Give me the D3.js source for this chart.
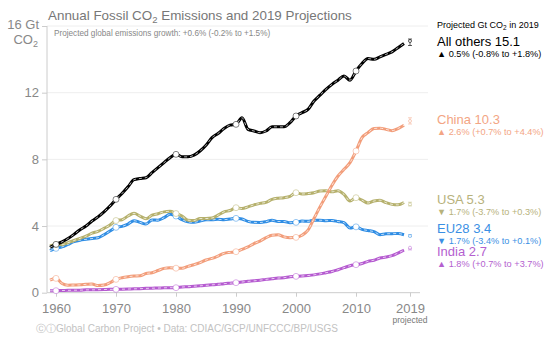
<!DOCTYPE html>
<html>
<head>
<meta charset="utf-8">
<script src="https://cdn.jsdelivr.net/npm/d3@7"></script>
<style>
body { margin: 0; background: #fff; }
text { font-family: "Liberation Sans", Arial, Helvetica, sans-serif; }
</style>
</head>
<body>
<div id="chart"></div>
<script>
(function() {

// years 1959..2018, projection for 2019
const firstYear = 1959;
const projYear = 2019;

const allOthers = [2.72, 2.90, 3.05, 3.25, 3.50, 3.78, 4.00, 4.30, 4.55, 4.85,
	5.20, 5.60, 5.95, 6.35, 6.78, 6.85, 6.90, 7.20, 7.50, 7.80,
	8.10, 8.30, 8.15, 8.15, 8.25, 8.50, 8.85, 9.30, 9.55, 9.85,
	10.05, 10.10, 10.50, 9.80, 9.70, 9.60, 9.70, 9.95, 9.95, 9.95,
	10.20, 10.60, 10.80, 11.00, 11.50, 11.85, 12.20, 12.50, 12.75, 13.00,
	12.75, 13.30, 13.75, 14.05, 14.00, 14.15, 14.30, 14.45, 14.70, 14.95];

const china = [0.76, 0.86, 0.55, 0.45, 0.46, 0.47, 0.50, 0.52, 0.43, 0.46,
	0.60, 0.80, 0.90, 0.96, 1.00, 1.02, 1.15, 1.20, 1.33, 1.46,
	1.50, 1.47, 1.46, 1.58, 1.68, 1.80, 1.96, 2.06, 2.20, 2.36,
	2.42, 2.46, 2.60, 2.75, 2.95, 3.10, 3.30, 3.45, 3.47, 3.35,
	3.30, 3.32, 3.45, 3.75, 4.45, 5.15, 5.80, 6.45, 7.00, 7.40,
	7.80, 8.50, 9.30, 9.60, 9.85, 9.87, 9.80, 9.72, 9.85, 10.05];

const usa = [2.80, 2.89, 2.88, 3.00, 3.13, 3.26, 3.39, 3.57, 3.68, 3.86,
	4.06, 4.33, 4.38, 4.60, 4.76, 4.60, 4.44, 4.65, 4.74, 4.85,
	4.88, 4.75, 4.60, 4.35, 4.33, 4.45, 4.45, 4.48, 4.65, 4.85,
	4.93, 5.10, 5.05, 5.15, 5.27, 5.36, 5.42, 5.60, 5.67, 5.70,
	5.78, 6.00, 5.92, 5.95, 6.00, 6.10, 6.12, 6.05, 6.12, 5.90,
	5.50, 5.70, 5.55, 5.38, 5.50, 5.55, 5.40, 5.30, 5.27, 5.41];

const eu28 = [2.52, 2.66, 2.75, 2.90, 3.06, 3.15, 3.20, 3.25, 3.30, 3.48,
	3.70, 3.92, 3.98, 4.12, 4.32, 4.22, 4.12, 4.36, 4.35, 4.50,
	4.70, 4.60, 4.38, 4.25, 4.22, 4.30, 4.37, 4.37, 4.40, 4.38,
	4.42, 4.46, 4.42, 4.28, 4.22, 4.21, 4.26, 4.35, 4.27, 4.27,
	4.20, 4.22, 4.30, 4.28, 4.35, 4.35, 4.32, 4.33, 4.27, 4.20,
	3.88, 3.95, 3.80, 3.73, 3.66, 3.48, 3.53, 3.54, 3.55, 3.48];

const india = [0.11, 0.12, 0.13, 0.14, 0.15, 0.15, 0.17, 0.17, 0.18, 0.19,
	0.20, 0.20, 0.21, 0.22, 0.23, 0.24, 0.26, 0.27, 0.28, 0.29,
	0.30, 0.30, 0.34, 0.36, 0.39, 0.41, 0.44, 0.47, 0.50, 0.54,
	0.57, 0.60, 0.64, 0.68, 0.71, 0.75, 0.80, 0.84, 0.88, 0.90,
	0.96, 0.98, 1.00, 1.03, 1.07, 1.13, 1.20, 1.27, 1.38, 1.50,
	1.62, 1.68, 1.75, 1.88, 1.95, 2.08, 2.14, 2.22, 2.38, 2.55];

// 2019 projections and growth ranges (%)
const names = ["All others", "China", "USA", "EU28", "India"];
const projected = [15.1, 10.3, 5.3, 3.4, 2.7];
const growth = [0.5, 2.6, -1.7, -1.7, 1.8];
const growthLo = [-0.8, 0.7, -3.7, -3.4, 0.7];
const growthHi = [1.8, 4.4, 0.3, 0.1, 3.7];

const yTicks = [0, 4, 8, 12, 16];
const xTicks = [1960, 1970, 1980, 1990, 2000, 2010, 2019];
const markerYears = [1960, 1970, 1980, 1990, 2000, 2010];

const series = [allOthers, china, usa, eu28, india];
const colors = ["#000000", "#f29d7a", "#b5b06c", "#2f8de4", "#b55ad0"];
const textColors = ["#000000", "#f3a584", "#b7b27c", "#3a8fe4", "#b45fcf"];
const labelY = [46, 124, 204, 232.5, 256];

const width = 551, height = 337;

const svg = d3.select("#chart").append("svg")
	.attr("width", width)
	.attr("height", height);

const x = d3.scaleLinear().domain([1960, 2010]).range([56, 356]);
const y = d3.scaleLinear().domain([0, 16]).range([292.7, 26]);

// gridlines
svg.append("g").selectAll("line")
	.data(yTicks.slice(1))
	.enter().append("line")
	.attr("x1", 47).attr("x2", 428)
	.attr("y1", d => y(d)).attr("y2", d => y(d))
	.attr("stroke", "#eeeeee");

// y axis
const yAxis = svg.append("g")
	.attr("transform", "translate(47,0)")
	.call(d3.axisLeft(y).tickValues(yTicks).tickSize(5).tickPadding(3)
		.tickFormat(d => d === 16 ? "16 Gt" : d));
yAxis.select(".domain").remove();
yAxis.selectAll(".tick line").attr("stroke", "#cccccc");
yAxis.selectAll(".tick text").attr("fill", "#888").style("font-size", "13px");
yAxis.selectAll(".tick text").filter(d => d === 16).attr("dy", "0.2em");

svg.append("line")
	.attr("x1", 47).attr("x2", 47)
	.attr("y1", y(16)).attr("y2", y(0))
	.attr("stroke", "#cccccc");

const co2 = svg.append("text")
	.attr("x", 38).attr("y", 44)
	.attr("text-anchor", "end")
	.attr("fill", "#888")
	.style("font-size", "13px");
co2.append("tspan").text("CO");
co2.append("tspan").attr("dy", 3).style("font-size", "9px").text("2");

// x axis
const xAxis = svg.append("g")
	.attr("transform", "translate(0," + y(0) + ")")
	.call(d3.axisBottom(x).tickValues(xTicks).tickSize(4).tickPadding(7)
		.tickFormat(d3.format("d")));
xAxis.select(".domain").remove();
xAxis.selectAll(".tick line").attr("stroke", "#cccccc");
xAxis.selectAll(".tick text").attr("fill", "#888").style("font-size", "13px");

svg.append("line")
	.attr("x1", 47).attr("x2", 420)
	.attr("y1", y(0)).attr("y2", y(0))
	.attr("stroke", "#cccccc");

svg.append("text")
	.attr("x", x(projYear)).attr("y", 323)
	.attr("text-anchor", "middle")
	.attr("fill", "#777")
	.style("font-size", "8.5px")
	.text("projected");

// lines
const line = d3.line()
	.x((d, i) => x(firstYear + i))
	.y(d => y(d))
	.curve(d3.curveMonotoneX);

const g = svg.append("g");

series.slice().reverse().forEach(function(s, k) {
	let idx = series.length - 1 - k;
	g.append("path")
		.datum(s)
		.attr("d", line)
		.attr("fill", "none")
		.attr("stroke", colors[idx])
		.attr("stroke-width", 3)
		.attr("stroke-linejoin", "round");
	g.append("path")
		.datum(s)
		.attr("d", line)
		.attr("fill", "none")
		.attr("stroke", "#ffffff")
		.attr("stroke-opacity", 0.7)
		.attr("stroke-width", 1)
		.attr("stroke-dasharray", "3,3");
	g.selectAll(".m" + idx)
		.data(markerYears)
		.enter().append("circle")
		.attr("cx", d => x(d))
		.attr("cy", d => y(s[d - firstYear]))
		.attr("r", 3)
		.attr("fill", "#fff")
		.attr("stroke", colors[idx])
		.attr("stroke-opacity", 0.6)
		.attr("stroke-width", 0.8);

	// projection marker
	let last = s[s.length - 1];
	let lo = y(last * (1 + growthLo[idx] / 100));
	let hi = y(last * (1 + growthHi[idx] / 100));
	let px = x(projYear);
	let pm = g.append("g")
		.attr("stroke", colors[idx])
		.attr("stroke-opacity", idx === 0 ? 0.8 : 0.6)
		.attr("stroke-width", 0.8);
	pm.append("line").attr("x1", px).attr("x2", px).attr("y1", lo).attr("y2", hi);
	pm.append("line").attr("x1", px - 2).attr("x2", px + 2).attr("y1", lo).attr("y2", lo);
	pm.append("line").attr("x1", px - 2).attr("x2", px + 2).attr("y1", hi).attr("y2", hi);
	pm.append("circle").attr("cx", px).attr("cy", y(projected[idx])).attr("r", 1.5).attr("fill", "#fff");
});

// title
const title = svg.append("text")
	.attr("x", 48).attr("y", 20)
	.attr("fill", "#777")
	.style("font-size", "13.4px");
title.append("tspan").text("Annual Fossil CO");
title.append("tspan").attr("dy", 3).style("font-size", "9.5px").text("2");
title.append("tspan").attr("dy", -3).text(" Emissions and 2019 Projections");

svg.append("text")
	.attr("x", 54).attr("y", 36)
	.attr("fill", "#888")
	.style("font-size", "8.2px")
	.text("Projected global emissions growth: +0.6% (-0.2% to +1.5%)");

// legend on the right
const hdr = svg.append("text")
	.attr("x", 437).attr("y", 28)
	.attr("fill", "#000")
	.style("font-size", "9px");
hdr.append("tspan").text("Projected Gt CO");
hdr.append("tspan").attr("dy", 2).style("font-size", "6.5px").text("2");
hdr.append("tspan").attr("dy", -2).text(" in 2019");

function pct(v) {
	return (v < 0 ? "-" : "+") + Math.abs(v).toFixed(1) + "%";
}

names.forEach(function(n, i) {
	svg.append("text")
		.attr("x", 437).attr("y", labelY[i])
		.attr("fill", textColors[i])
		.style("font-size", "13px")
		.text(n + " " + projected[i]);
	svg.append("text")
		.attr("x", 437).attr("y", labelY[i] + 11)
		.attr("fill", textColors[i])
		.style("font-size", "9.2px")
		.text((growth[i] >= 0 ? "\u25B2 " : "\u25BC ") + Math.abs(growth[i]).toFixed(1) + "% (" + pct(growthLo[i]) + " to " + pct(growthHi[i]) + ")");
});

// footer
svg.append("text")
	.attr("x", 36).attr("y", 332)
	.attr("fill", "#c2c2c2")
	.style("font-size", "10px")
	.text("\u24B8\u24D8Global Carbon Project  \u2022  Data: CDIAC/GCP/UNFCCC/BP/USGS");

})();
</script>
</body>
</html>
